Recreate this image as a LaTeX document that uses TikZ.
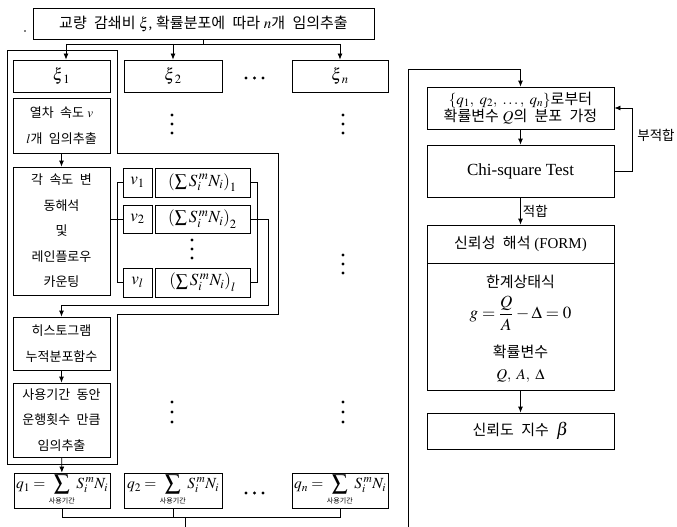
\documentclass[tikz,border=0pt]{standalone}
\usepackage{mathptmx}
\usepackage{amsmath}
\usepackage{fontspec}
\setmainfont{Liberation Serif}
\newfontfamily\kr[WordSpace=2.2]{Noto Sans CJK KR}
\usetikzlibrary{arrows.meta}
\newcommand\mybox[7][]{\node[box,minimum width={#5-#3},minimum height={#6-#4},#1] (#2) at ({(#3+#5)/2},{(#4+#6)/2}) {#7};}
\newcommand\sm[1]{$\left(\sum S_i^{\,m} N_i\right)_{#1}$}
\newcommand\qeq[1]{$\displaystyle #1 = \sum\limits_{\mbox{\kr\fontsize{7}{8}\selectfont 사용기간}} S_i^{\,m} N_i$}
\begin{document}
\begin{tikzpicture}[x=1pt,y=-1pt,
  box/.style={draw,line width=0.8pt,inner sep=1pt,align=center},
  conn/.style={line width=0.8pt},
  arr/.style={conn,-{Latex[length=6pt,width=5pt]}},
  ktop/.style={font=\fontsize{15}{18}\selectfont},
  kleft/.style={font=\fontsize{13}{25.5}\selectfont},
  kright/.style={font=\fontsize{15}{17.5}\selectfont},
  mth/.style={font=\fontsize{17}{20}\selectfont},
  qst/.style={font=\fontsize{15.5}{18}\selectfont,inner sep=0pt},
  lbl/.style={inner sep=2pt,font=\fontsize{13.5}{15}\selectfont}]
\useasboundingbox (0,0) rectangle (677,527);
\fill (25,31) circle (0.9pt);

% top and xi row
\mybox[ktop]{top}{33}{8}{374}{39}{{\kr 교량 감쇄비} $\xi$, {\kr 확률분포에 따라} $n${\kr 개 임의추출}}
\mybox[mth]{xi1}{13}{60}{110}{92}{$\xi_{\kern2pt 1}$}
\mybox[mth]{xi2}{124}{60}{222}{92}{$\xi_{\kern2pt 2}$}
\mybox[mth]{xin}{292}{60}{388}{92}{$\xi_{\kern2pt n}$}
\coordinate (hy) at (0,44);
\coordinate (a1) at ([xshift=4.5pt]xi1.north);
\draw[conn] (top.south) -- (top.south |- hy);
\draw[conn] (a1 |- hy) -- (xin.north |- hy);
\draw[arr] (a1 |- hy) -- (a1);
\draw[arr] (xi2.north |- hy) -- (xi2.north);
\draw[arr] (xin.north |- hy) -- (xin.north);

% left frame
\draw[conn] (7,50) -- (117,50) -- (117,153) -- (278,153) -- (278,314) -- (117,314) -- (117,464) -- (7,464) -- cycle;

% left column
\mybox[kleft]{ran}{13}{98}{110}{153}{{\kr 열차 속도} $v$\\$l${\kr 개 임의추출}}
\mybox[kleft]{gak}{13}{167}{110}{295}{{\kr 각 속도 변}\\{\kr 동해석}\\{\kr 및}\\{\kr 레인플로우}\\{\kr 카운팅}}
\mybox[kleft]{hist}{13}{317}{110}{370}{{\kr 히스토그램}\\{\kr 누적분포함수}}
\mybox[kleft]{use}{13}{383}{110}{457}{{\kr 사용기간 동안}\\{\kr 운행횟수 만큼}\\{\kr 임의추출}}

% speed boxes
\mybox[mth]{v1}{123}{168}{152}{197}{$v_1$}
\mybox[mth]{v2}{123}{205}{152}{233}{$v_2$}
\mybox[mth]{vl}{123}{268}{152}{297}{$v_l$}
\mybox[mth]{s1}{155}{168}{250}{197}{\sm{1}}
\mybox[mth]{s2}{155}{205}{250}{233}{\sm{2}}
\mybox[mth]{sl}{155}{268}{250}{297}{\sm{l}}

\draw[arr] (ran) -- (gak);
\coordinate (bl) at (117,0);
\coordinate (br) at (257,0);
\coordinate (br2) at (268,0);
\coordinate (ry) at (0,305);
\draw[conn] (v1.west) -- (bl |- v1.west) -- (bl |- vl.west) -- (vl.west);
\draw[conn] (gak.east |- v2.west) -- (v2.west);
\draw[conn] (s1.east) -- (br |- s1.east) -- (br |- sl.east) -- (sl.east);
\draw[arr] (s2.east) -- (br2 |- s2.east) -- (br2 |- ry) -- (hist.north |- ry) -- (hist.north);
\draw[arr] (hist) -- (use);

% dots
\foreach \y in {115,124,133} {\fill (172,\y) circle (1.6pt); \fill (343,\y) circle (1.6pt);}
\foreach \y in {240,249,258} {\fill (192,\y) circle (1.6pt);}
\foreach \y in {255,264,273} {\fill (343,\y) circle (1.6pt);}
\foreach \y in {402,412,422} {\fill (172,\y) circle (1.6pt); \fill (343,\y) circle (1.6pt);}
\foreach \x in {246,254.5,263} {\fill (\x,78) circle (1.6pt); \fill (\x,493) circle (1.6pt);}

% q row
\mybox[qst]{q1}{14}{473}{110}{508}{\qeq{q_1}}
\mybox[qst]{q2}{124}{473}{222}{508}{\qeq{q_2}}
\mybox[qst]{qn}{292}{473}{388}{508}{\qeq{q_n}}
\draw[arr] (use) -- (q1);
\coordinate (by) at (0,517);
\coordinate (b1) at (185,527);
\coordinate (b2) at (408,527);
\draw[conn] (q1.south) -- (q1.south |- by) -- (qn.south |- by) -- (qn.south);
\draw[conn] (q2.south) -- (q2.south |- by);
\draw[conn] (b1 |- by) -- (b1);

% right column
\mybox[kright]{A}{427}{87}{614}{129}{$\{q_1,\ q_2,\ \ldots,\ q_n\}${\kr 로부터}\\{\kr 확률변수} $Q${\kr 의 분포 가정}}
\mybox[font=\fontsize{17}{20}\selectfont]{chi}{427}{145}{614}{197}{Chi-square Test}
\mybox[kright]{relh}{427}{225}{614}{263}{{\kr 신뢰성 해석} (FORM)}
\mybox{relb}{427}{263}{614}{390}{}
\node[kright] (t1) at (520.5,282) {\kr 한계상태식};
\node[font=\fontsize{17}{20}\selectfont] (t2) at (520.5,313) {$\displaystyle g=\frac{Q}{A}-\Delta=0$};
\node[kright] (t3) at (520.5,352) {\kr 확률변수};
\node[font=\fontsize{15}{18}\selectfont] (t4) at (520.5,376) {$Q,\ A,\ \Delta$};
\mybox[kright]{beta}{427}{413}{614}{449}{{\kr 신뢰도 지수}\ \ {\fontsize{18}{20}\selectfont$\beta$}}

\coordinate (ty) at (0,69);
\coordinate (lx) at (632,0);
\draw[arr] (b2) -- (b2 |- ty) -- (A.north |- ty) -- (A.north);
\draw[arr] (A) -- (chi);
\draw[arr] (chi.east) -- (lx |- chi.east) -- (lx |- A.east) -- (A.east);
\node[lbl] (nf) at (656,135) {\kr 부적합};
\draw[arr] (chi) -- node[lbl,right] (ok) {\kr 적합} (relh);
\draw[arr] (relb) -- (beta);
\end{tikzpicture}
\end{document}
